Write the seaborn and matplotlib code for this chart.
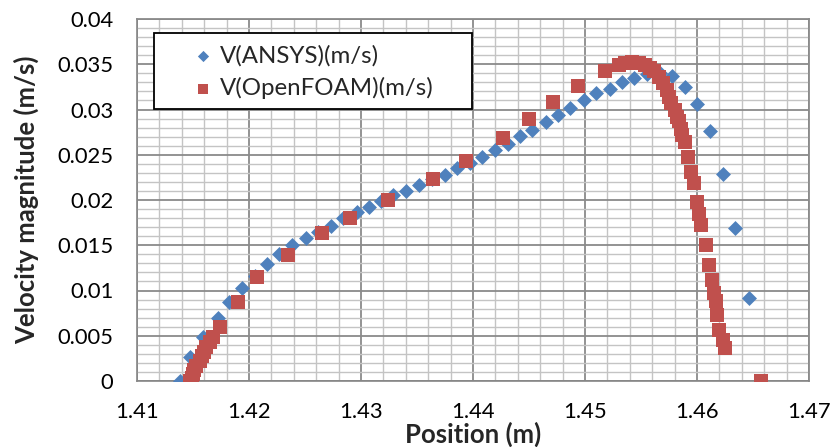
import numpy as np
import pandas as pd
import matplotlib
matplotlib.use("Agg")
import matplotlib.pyplot as plt
from matplotlib.patches import Rectangle
from matplotlib.ticker import FixedLocator, MultipleLocator
import seaborn as sns

# ---- data ----
ansys_x = [1.4138, 1.4147, 1.4159, 1.4172, 1.4182, 1.4194, 1.4205, 1.4216, 1.4227, 1.4238,
           1.4251, 1.4262, 1.4273, 1.4284, 1.4296, 1.4307, 1.4318, 1.4329, 1.4340, 1.4352,
           1.4363, 1.4375, 1.4386, 1.4397, 1.4408, 1.4420, 1.4431, 1.4442, 1.4453, 1.4465,
           1.4476, 1.4487, 1.4499, 1.4510, 1.4522, 1.4533, 1.4544, 1.4555, 1.4567, 1.4578,
           1.4589, 1.4600, 1.4612, 1.4623, 1.4634, 1.4646]
ansys_v = [0.0000, 0.0026, 0.0049, 0.0070, 0.0087, 0.0103, 0.0116, 0.0129, 0.0140, 0.0150,
           0.0158, 0.0165, 0.0171, 0.0180, 0.0187, 0.0192, 0.0199, 0.0205, 0.0210, 0.0217,
           0.0223, 0.0228, 0.0235, 0.0241, 0.0248, 0.0255, 0.0262, 0.0271, 0.0277, 0.0286,
           0.0294, 0.0302, 0.0310, 0.0318, 0.0323, 0.0330, 0.0335, 0.0339, 0.0340, 0.0337,
           0.0325, 0.0306, 0.0276, 0.0229, 0.0169, 0.0092]

foam_x = [1.4147, 1.4149, 1.4150, 1.4151, 1.4153, 1.4156, 1.4158, 1.4160, 1.4162, 1.4165,
          1.4168, 1.4174, 1.4190, 1.4207, 1.4235, 1.4265, 1.4290, 1.4324, 1.4364, 1.4394,
          1.4427, 1.4450, 1.4471, 1.4494, 1.4518, 1.4530, 1.4536, 1.4542, 1.4548, 1.4554,
          1.4558, 1.4562, 1.4566, 1.4570, 1.4573, 1.4575, 1.4577, 1.4580, 1.4582, 1.4584,
          1.4586, 1.4587, 1.4589, 1.4592, 1.4595, 1.4597, 1.4600, 1.4602, 1.4604, 1.4608,
          1.4611, 1.4613, 1.4615, 1.4617, 1.4618, 1.4620, 1.4623, 1.4625, 1.4657]
foam_v = [0.0000, 0.0003, 0.0008, 0.0012, 0.0017, 0.0022, 0.0028, 0.0032, 0.0038, 0.0043,
          0.0049, 0.0060, 0.0087, 0.0115, 0.0139, 0.0164, 0.0180, 0.0200, 0.0223, 0.0243,
          0.0269, 0.0290, 0.0308, 0.0326, 0.0342, 0.0349, 0.0351, 0.0352, 0.0351, 0.0349,
          0.0346, 0.0342, 0.0336, 0.0329, 0.0322, 0.0314, 0.0307, 0.0299, 0.0292, 0.0287,
          0.0279, 0.0272, 0.0264, 0.0248, 0.0231, 0.0219, 0.0198, 0.0185, 0.0172, 0.0150,
          0.0128, 0.0112, 0.0097, 0.0088, 0.0073, 0.0056, 0.0045, 0.0036, 0.0000]

series_names = ["V(ANSYS)(m/s)", "V(OpenFOAM)(m/s)"]
x_ticks = [1.41, 1.42, 1.43, 1.44, 1.45, 1.46, 1.47]
x_tick_labels = ["1.41", "1.42", "1.43", "1.44", "1.45", "1.46", "1.47"]
y_ticks = [0, 0.005, 0.01, 0.015, 0.02, 0.025, 0.03, 0.035, 0.04]
y_tick_labels = ["0", "0.005", "0.01", "0.015", "0.02", "0.025", "0.03", "0.035", "0.04"]
x_label = "Position (m)"
y_label = "Velocity magnitude (m/s)"

# ---- style ----
sns.set_theme(style="white")
plt.rcParams["font.family"] = ["Lato", "DejaVu Sans"]

BLUE = "#4F81BD"
RED = "#C0504D"
MAJ = "#8A8A8A"
MIN = "#C4C4C4"

fig = plt.figure(figsize=(8.33, 4.47), dpi=100)
W, H = 833, 447
ax = fig.add_axes([137 / W, 1 - 381 / H, 672 / W, 362 / H])

df_a = pd.DataFrame({"x": ansys_x, "v": ansys_v})
df_f = pd.DataFrame({"x": foam_x, "v": foam_v})

sns.scatterplot(data=df_a, x="x", y="v", ax=ax, marker="D", s=58, color=BLUE,
                linewidth=0, label=series_names[0], zorder=3)
sns.scatterplot(data=df_f, x="x", y="v", ax=ax, marker="s", s=88, color=RED,
                linewidth=0, label=series_names[1], zorder=4)

ax.set_xlim(1.41, 1.47)
ax.set_ylim(0, 0.04)
ax.xaxis.set_major_locator(FixedLocator(x_ticks))
ax.set_xticklabels(x_tick_labels)
ax.yaxis.set_major_locator(FixedLocator(y_ticks))
ax.set_yticklabels(y_tick_labels)
ax.xaxis.set_minor_locator(MultipleLocator(0.002))
ax.yaxis.set_minor_locator(MultipleLocator(0.001))

ax.grid(which="major", color=MAJ, linewidth=1.3, zorder=0)
ax.grid(which="minor", color=MIN, linewidth=1.0, zorder=0)
ax.set_axisbelow(True)

ax.tick_params(axis="both", which="major", direction="out", length=6, width=1,
               color="#868686", labelsize=15.8, labelcolor="black")
ax.tick_params(axis="x", which="major", pad=9)
ax.tick_params(axis="y", which="major", pad=11)
ax.tick_params(axis="both", which="minor", length=0)

for side in ["left", "bottom"]:
    ax.spines[side].set_color("#868686")
    ax.spines[side].set_linewidth(1.2)
for side in ["top", "right"]:
    ax.spines[side].set_color(MAJ)
    ax.spines[side].set_linewidth(1.3)

ax.set_xlabel(x_label, fontsize=18.5, fontweight="bold", labelpad=0)
ax.set_ylabel(y_label, fontsize=18.5, fontweight="bold", labelpad=13)

# legend frame (Excel style box) and legend content
rect = Rectangle((17 / 672, (381 - 109) / 362), 318 / 672, 76 / 362,
                 transform=ax.transAxes, facecolor="white", edgecolor="black",
                 linewidth=1.3, zorder=5)
ax.add_patch(rect)
leg = ax.legend(loc="upper left", bbox_to_anchor=((192 - 137) / 672, (381 - 45) / 362),
                frameon=False, fontsize=17.3, handlelength=0.95, handletextpad=0.2,
                borderpad=0, borderaxespad=0, labelspacing=0.45, markerscale=0.75)
leg.set_zorder(6)

fig.savefig("out.png", dpi=100)
